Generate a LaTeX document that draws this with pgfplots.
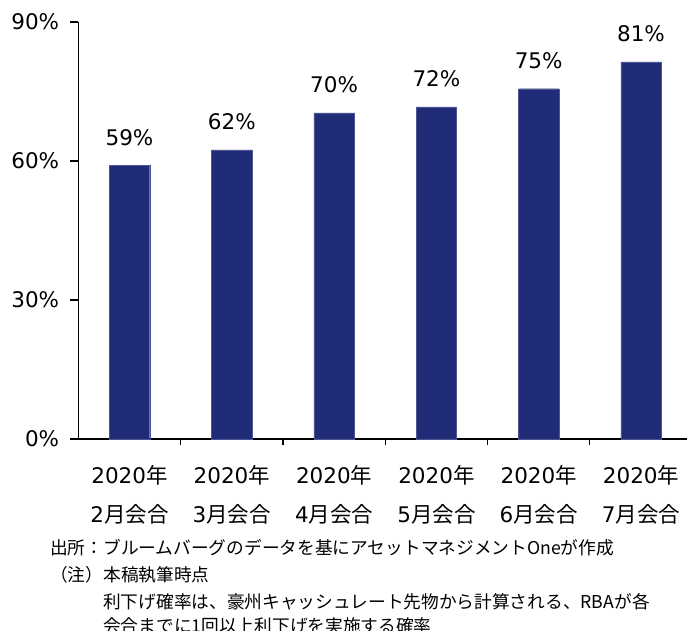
\documentclass[border=0pt]{standalone}
\usepackage{pgfplots}
\pgfplotsset{compat=1.18}
\usepackage{fontspec}
\setmainfont{DejaVu Sans}
\newfontfamily\cjk{Noto Sans CJK JP}
\definecolor{barblue}{RGB}{32,44,120}
\newcommand{\bigf}{\fontsize{21.5}{37}\selectfont}
\begin{document}
\begin{tikzpicture}[x=1pt,y=1pt]
\useasboundingbox (0,0) rectangle (688,631);
\begin{axis}[
  at={(78.35pt,192pt)}, anchor=south west,
  scale only axis, width=608.7pt, height=417pt,
  xmin=-0.5, xmax=5.45, ymin=0, ymax=90,
  axis x line*=bottom, axis y line*=left,
  axis line style={black, line width=1.2pt, -},
  ybar, bar width=0.395,
  tick align=outside,
  major tick length=8pt,
  ytick={0,30,60,90},
  yticklabel={\pgfmathprintnumber{\tick}\%},
  /pgf/number format/assume math mode=true,
  yticklabel style={font=\bigf, anchor=east, inner sep=0pt, xshift=-11pt},
  ytick style={black, line width=1.2pt},
  xtick={0,...,5},
  xticklabels={
    {2020{\cjk 年}\\[2pt]2{\cjk 月会合}},
    {2020{\cjk 年}\\[2pt]3{\cjk 月会合}},
    {2020{\cjk 年}\\[2pt]4{\cjk 月会合}},
    {2020{\cjk 年}\\[2pt]5{\cjk 月会合}},
    {2020{\cjk 年}\\[2pt]6{\cjk 月会合}},
    {2020{\cjk 年}\\[2pt]7{\cjk 月会合}}},
  xticklabel style={font=\bigf, align=center, anchor=north, inner sep=0pt, yshift=-18.5pt},
  xtick style={draw=none},
  extra x ticks={0.5,1.5,2.5,3.5,4.5},
  extra x tick labels={},
  extra x tick style={major tick length=6pt, xtick style={draw=black, line width=1.2pt}},
  nodes near coords={\pgfplotspointmeta\%},
  point meta=explicit symbolic,
  nodes near coords style={font=\bigf, anchor=south, inner sep=0pt, yshift=20pt},
  clip=false,
]
\addplot[fill=barblue, draw=barblue!80!white, line width=0.4pt] table[meta=lab] {
x y lab
0 59.0 59
1 62.4 62
2 70.4 70
3 71.7 72
4 75.6 75
5 81.4 81
};
\end{axis}
\begin{scope}[every node/.style={anchor=base west, inner sep=0pt, font=\cjk\fontsize{17.7}{20}\selectfont}]
\node at (50,76.5) {出所：ブルームバーグのデータを基にアセットマネジメントOneが作成};
\node at (50,49.5) {（注）本稿執筆時点};
\node at (103,22.5) {利下げ確率は、豪州キャッシュレート先物から計算される、RBAが各};
\node at (103,-2) {会合までに1回以上利下げを実施する確率};
\end{scope}
\end{tikzpicture}
\end{document}
